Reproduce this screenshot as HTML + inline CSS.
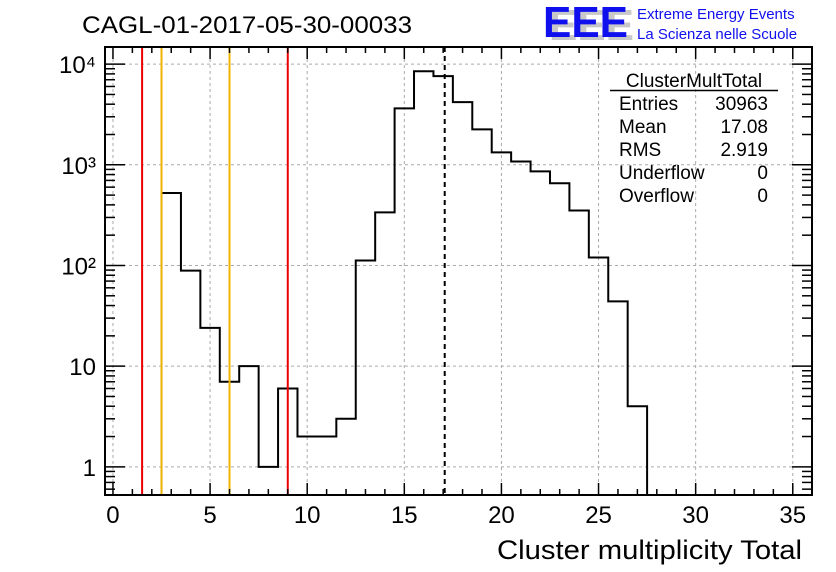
<!DOCTYPE html>
<html><head><meta charset="utf-8"><style>
body{margin:0;background:#fff;}
svg{display:block;font-family:"Liberation Sans",sans-serif;}
</style></head><body>
<svg id="c" width="836" height="572" viewBox="0 0 836 572">
<rect width="836" height="572" fill="#fff"/>
<text x="82" y="33" font-size="24" textLength="330" lengthAdjust="spacingAndGlyphs">CAGL-01-2017-05-30-00033</text>
<g>
<text x="549" y="40" font-size="44" font-weight="bold" fill="#c8c8c8" textLength="85" lengthAdjust="spacingAndGlyphs">EEE</text>
<text x="543" y="37" font-size="44" font-weight="bold" fill="#1010ee" textLength="85" lengthAdjust="spacingAndGlyphs">EEE</text>
<text x="637" y="19" font-size="15" fill="#1010ee">Extreme Energy Events</text>
<text x="637" y="39" font-size="15" fill="#1010ee">La Scienza nelle Scuole</text>
</g>
<g id="plot"></g>
<g font-size="19">
<text x="694" y="87" text-anchor="middle">ClusterMultTotal</text>
<line x1="610" y1="90.5" x2="778" y2="90.5" stroke="#000" stroke-width="1.5"/>
<text x="619" y="110">Entries</text><text x="768" y="110" text-anchor="end">30963</text>
<text x="619" y="133">Mean</text><text x="768" y="133" text-anchor="end">17.08</text>
<text x="619" y="156">RMS</text><text x="768" y="156" text-anchor="end">2.919</text>
<text x="619" y="179">Underflow</text><text x="768" y="179" text-anchor="end">0</text>
<text x="619" y="202">Overflow</text><text x="768" y="202" text-anchor="end">0</text>
</g>
<text x="497" y="559" font-size="27" textLength="305" lengthAdjust="spacingAndGlyphs">Cluster multiplicity Total</text>
</svg>
<script>
const binCenters=[3,4,5,6,7,8,9,10,11,12,13,14,15,16,17,18,19,20,21,22,23,24,25,26,27];
const counts=[525,89,24,7,10,1,6,2,2,3,112,337,3640,8500,7600,4200,2250,1330,1080,860,655,352,120,44,4];
const xTicks=[0,5,10,15,20,25,30,35];
const yTicks=[1,10,100,1000,10000];
const yTickLabels=["1","10","10²","10³","10⁴"];
const redCuts=[1.5,9];
const yellowCuts=[2.5,6];
const meanVal=17.08;
const L=105,R=812,T=47,B=495;
const xmin=-0.41,xmax=35.99,ymin=Math.log10(0.525),ymax=Math.log10(14800);
const X=v=>L+(v-xmin)/(xmax-xmin)*(R-L);
const Y=v=>B-(Math.log10(v)-ymin)/(ymax-ymin)*(B-T);
const g=document.getElementById('plot');
const NS='http://www.w3.org/2000/svg';
function mk(t,a){const e=document.createElementNS(NS,t);for(const k in a)e.setAttribute(k,a[k]);g.appendChild(e);return e;}
xTicks.forEach(v=>{const e=mk('line',{x1:X(v),x2:X(v),y1:T,y2:B,stroke:'#aaa','stroke-dasharray':'3,3','stroke-width':1});

});
yTicks.forEach(v=>{const e=mk('line',{x1:L,x2:R,y1:Y(v),y2:Y(v),stroke:'#aaa','stroke-dasharray':'3,3','stroke-width':1});

});
let d='M'+X(binCenters[0]-0.5)+','+B;
binCenters.forEach((c,i)=>{d+=' L'+X(c-0.5)+','+Y(counts[i])+' L'+X(c+0.5)+','+Y(counts[i]);});
d+=' L'+X(binCenters[binCenters.length-1]+0.5)+','+B;
const h=mk('path',{d:d,fill:'none',stroke:'#000','stroke-width':2});


redCuts.forEach(v=>{const e=mk('line',{x1:X(v),x2:X(v),y1:T,y2:B,stroke:'#e00','stroke-width':2});

});
yellowCuts.forEach(v=>{const e=mk('line',{x1:X(v),x2:X(v),y1:T,y2:B,stroke:'#f0b400','stroke-width':2});

});
const m=mk('line',{x1:X(meanVal),x2:X(meanVal),y1:T,y2:B,stroke:'#000','stroke-width':2,'stroke-dasharray':'5,4'});


const f=mk('rect',{x:L,y:T,width:R-L,height:B-T,fill:'none',stroke:'#000','stroke-width':2});


for(let v=0;v<=35;v++){const len=v%5==0?12:6;
mk('line',{x1:X(v),x2:X(v),y1:B,y2:B-len,stroke:'#000','stroke-width':1.5});
mk('line',{x1:X(v),x2:X(v),y1:T,y2:T+len,stroke:'#000','stroke-width':1.5});}
xTicks.forEach(v=>{const t=mk('text',{x:X(v),y:B+28,'font-size':24,'text-anchor':'middle'});t.textContent=v;

});
for(let p=-1;p<=4;p++)for(let k=1;k<=9;k++){const v=k*Math.pow(10,p);if(v<0.525||v>14800)continue;const len=k==1?20:10;
mk('line',{x1:L,x2:L+len,y1:Y(v),y2:Y(v),stroke:'#000','stroke-width':1.5});
mk('line',{x1:R,x2:R-len,y1:Y(v),y2:Y(v),stroke:'#000','stroke-width':1.5});}
yTicks.forEach((v,i)=>{const t=mk('text',{x:L-9,y:Y(v)+9,'font-size':24,'text-anchor':'end'});t.textContent=yTickLabels[i];

});
</script>
</body></html>
